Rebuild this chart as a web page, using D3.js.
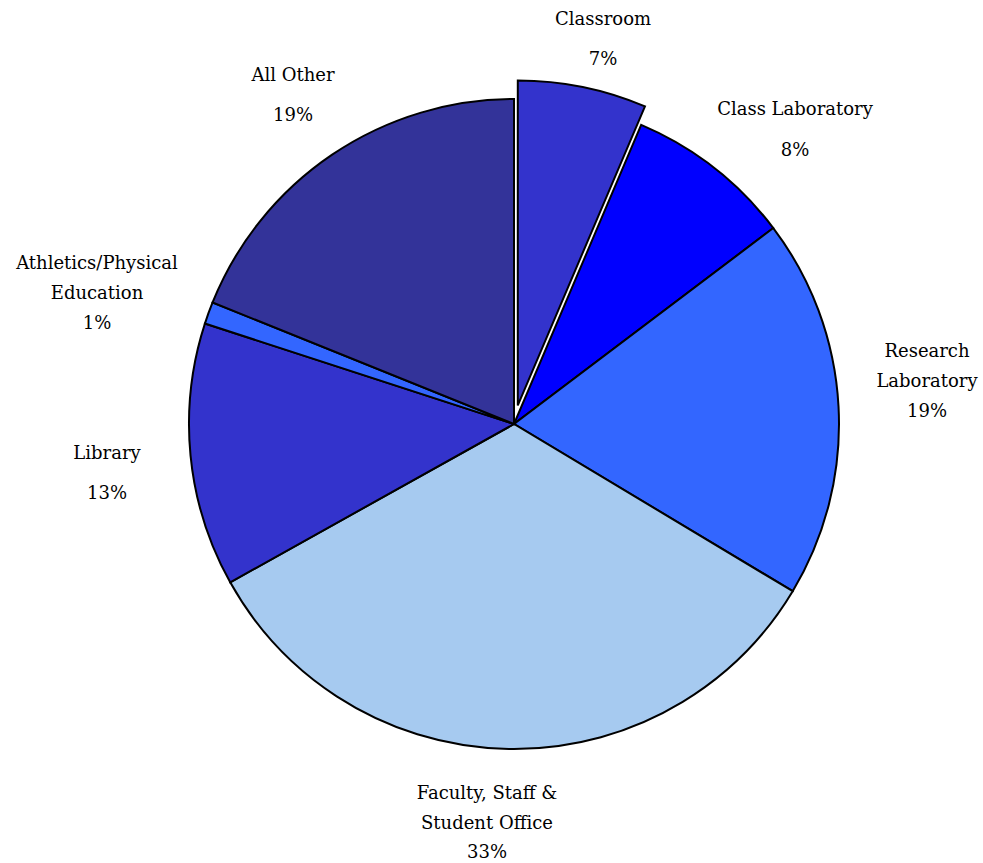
<!DOCTYPE html>
<html>
<head>
<meta charset="utf-8">
<script src="https://cdn.jsdelivr.net/npm/d3@7"></script>
<style>
  html, body { margin: 0; padding: 0; background: #ffffff; }
  svg { display: block; }
</style>
</head>
<body>
<svg id="chart" width="983" height="863"></svg>
<script>
// ---- data ----
const categories = ["Classroom", "Class Laboratory", "Research Laboratory", "Faculty, Staff & Student Office", "Library", "Athletics/Physical Education", "All Other"];
const values = [6.4, 8.3, 18.9, 33.3, 13.1, 1.1, 18.9];
const percentLabels = ["7%", "8%", "19%", "33%", "13%", "1%", "19%"];
const labelLines = [
  ["Classroom"],
  ["Class Laboratory"],
  ["Research", "Laboratory"],
  ["Faculty, Staff &", "Student Office"],
  ["Library"],
  ["Athletics/Physical", "Education"],
  ["All Other"]
];
const colors = ["#3333cc", "#0000ff", "#3366ff", "#a6caf0", "#3333cc", "#3366ff", "#333399"];
const exploded = [true, false, false, false, false, false, false];

// ---- layout ----
const cx = 514, cy = 424, radius = 325, explodeDist = 19;
const fontFamily = "'DejaVu Serif', 'Liberation Serif', serif";
const fontSize = 18;
// label anchor (center x, first line center y) and gap before percent
const labelLayout = [
  {x: 603, y: 18, gap: 40},
  {x: 795, y: 108, gap: 41},
  {x: 927, y: 350, gap: 30},
  {x: 487, y: 792, gap: 29},
  {x: 107, y: 452, gap: 40},
  {x: 97, y: 262, gap: 30},
  {x: 293, y: 74, gap: 40}
];

const svg = d3.select("#chart");
const data = categories.map((c, i) => ({cat: c, value: values[i], i}));

const pie = d3.pie().sort(null).value(d => d.value).startAngle(0).endAngle(2 * Math.PI);
const arc = d3.arc().innerRadius(0).outerRadius(radius);
const arcs = pie(data);

const g = svg.append("g").attr("transform", `translate(${cx},${cy})`);

g.selectAll("path.slice")
  .data(arcs)
  .join("path")
  .attr("class", "slice")
  .attr("d", arc)
  .attr("fill", d => colors[d.data.i])
  .attr("stroke", "#000")
  .attr("stroke-width", 2)
  .attr("stroke-linejoin", "miter")
  .attr("transform", d => {
    if (!exploded[d.data.i]) return null;
    const a = (d.startAngle + d.endAngle) / 2;
    return `translate(${Math.sin(a) * explodeDist},${-Math.cos(a) * explodeDist})`;
  });

// labels
const lg = svg.append("g")
  .attr("font-family", fontFamily)
  .attr("font-size", fontSize)
  .attr("fill", "#000");
data.forEach((d, i) => {
  const L = labelLayout[i];
  const lines = labelLines[i];
  lines.forEach((ln, k) => {
    lg.append("text")
      .attr("x", L.x)
      .attr("y", L.y + k * 30)
      .attr("text-anchor", "middle")
      .attr("dominant-baseline", "central")
      .text(ln);
  });
  lg.append("text")
    .attr("x", L.x)
    .attr("y", L.y + (lines.length - 1) * 30 + L.gap)
    .attr("text-anchor", "middle")
    .attr("dominant-baseline", "central")
    .text(percentLabels[i]);
});
</script>
</body>
</html>
